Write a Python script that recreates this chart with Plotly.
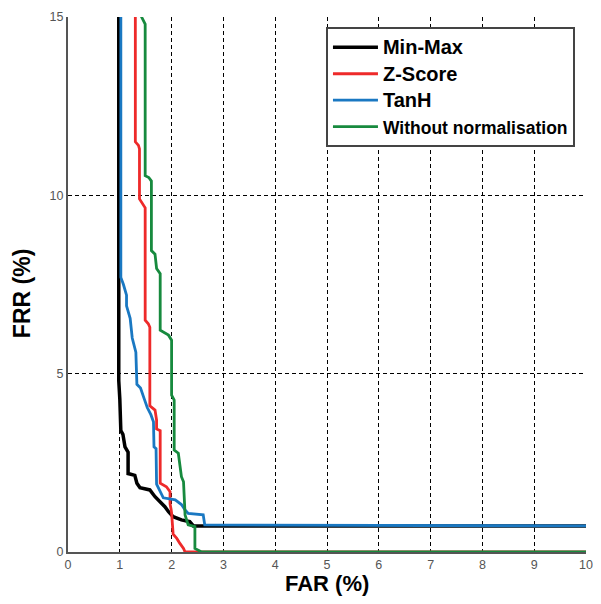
import plotly.graph_objects as go

# FAR (%) / FRR (%) vertices
minmax_far = [0.98, 0.98, 1.00, 1.02, 1.06, 1.10, 1.16, 1.16, 1.29, 1.33, 1.39, 1.58, 1.68, 1.78, 1.87, 1.94, 2.03, 2.19, 2.35, 2.42, 10.0]
minmax_frr = [16.0, 4.80, 4.30, 3.40, 3.30, 2.95, 2.80, 2.20, 2.15, 1.93, 1.80, 1.74, 1.55, 1.41, 1.27, 1.13, 0.99, 0.90, 0.85, 0.73, 0.73]

zscore_far = [1.30, 1.30, 1.36, 1.38, 1.38, 1.43, 1.49, 1.49, 1.55, 1.58, 1.58, 1.68, 1.71, 1.71, 1.78, 1.78, 1.90, 1.97, 1.97, 1.99, 2.00, 2.03, 2.10, 2.16, 2.23, 2.26, 10.0]
zscore_frr = [16.0, 11.5, 11.4, 11.3, 9.90, 9.80, 9.65, 6.50, 6.40, 6.30, 4.10, 3.98, 3.70, 3.45, 3.40, 1.93, 1.83, 1.69, 1.35, 1.20, 1.09, 0.50, 0.38, 0.24, 0.10, 0.00, 0.00]

tanh_far = [1.02, 1.02, 1.07, 1.13, 1.13, 1.20, 1.24, 1.27, 1.31, 1.33, 1.40, 1.47, 1.53, 1.60, 1.65, 1.66, 1.70, 1.71, 1.78, 1.84, 2.07, 2.19, 2.26, 2.32, 2.61, 2.64, 10.0]
tanh_frr = [16.0, 7.70, 7.50, 7.20, 6.90, 6.55, 6.00, 5.80, 5.60, 4.70, 4.60, 4.30, 4.05, 3.85, 3.65, 2.95, 2.90, 1.90, 1.70, 1.52, 1.46, 1.33, 1.18, 1.08, 1.04, 0.76, 0.73]

raw_far = [1.42, 1.42, 1.49, 1.49, 1.56, 1.61, 1.61, 1.68, 1.71, 1.78, 1.78, 1.94, 2.00, 2.00, 2.05, 2.05, 2.13, 2.19, 2.23, 2.26, 2.32, 2.45, 2.45, 2.51, 2.58, 10.0]
raw_frr = [16.0, 15.0, 14.8, 10.55, 10.5, 10.4, 8.45, 8.35, 7.95, 7.80, 6.22, 6.08, 5.94, 4.40, 4.26, 2.86, 2.77, 2.11, 1.97, 1.04, 0.76, 0.71, 0.10, 0.06, 0.00, 0.00]

series = [
    ("<b><span style='font-size:20px'>Min-Max</span></b>", minmax_far, minmax_frr, "#000000", 3.5),
    ("<b><span style='font-size:20px'>Z-Score</span></b>", zscore_far, zscore_frr, "#ee2a2a", 2.8),
    ("<b><span style='font-size:20px'>TanH</span></b>", tanh_far, tanh_frr, "#1a78c2", 2.8),
    ("<b><span style='font-size:17.5px'>Without normalisation</span></b>", raw_far, raw_frr, "#178a3e", 2.8),
]

x_ticks = list(range(0, 11))
y_ticks = [0, 5, 10, 15]
x_title = "FAR (%)"
y_title = "FRR (%)"

FONT = "Liberation Sans, Arial"

fig = go.Figure()
for i, (name, xs, ys, color, w) in enumerate(series):
    fig.add_trace(go.Scatter(x=xs, y=ys, mode="lines", name=name,
                             legendgroup=f"g{i}",
                             line=dict(color=color, width=w)))

axis_common = dict(
    showgrid=True, gridcolor="#000000", gridwidth=1, griddash="4px,3px",
    zeroline=False, showline=True, linecolor="#555555", linewidth=2,
    ticks="", ticklen=0, automargin=False, ticklabeloverflow="allow",
    tickfont=dict(family=FONT, size=12.5, color="#555555"),
)

fig.update_xaxes(range=[0, 10], tickvals=x_ticks, **axis_common)
fig.update_yaxes(range=[0, 15], tickvals=y_ticks, **axis_common)

# axis titles as annotations for exact placement
fig.add_annotation(text=f"<b>{x_title}</b>", xref="paper", yref="paper",
                   x=0.5, y=-0.0598, xanchor="center", yanchor="middle",
                   showarrow=False, font=dict(family=FONT, size=22, color="#000000"))
fig.add_annotation(text=f"<b>{y_title}</b>", xref="paper", yref="paper",
                   x=-0.0888, y=0.482, xanchor="center", yanchor="middle",
                   textangle=-90, showarrow=False,
                   font=dict(family=FONT, size=23, color="#000000"))

# page body has an 8px margin; the figure is sized to fit the 601x604 window
fig.update_layout(
    width=585, height=588,
    margin=dict(l=60, r=7, t=9, b=44),
    plot_bgcolor="#ffffff", paper_bgcolor="#ffffff",
    font=dict(family=FONT),
    legend=dict(x=0.498, y=0.981, xanchor="left", yanchor="top",
                bgcolor="#ffffff", bordercolor="#444444", borderwidth=2,
                font=dict(family=FONT, size=18, color="#000000"),
                tracegroupgap=0, itemwidth=45),
    showlegend=True,
)

fig.write_html("out.html")
